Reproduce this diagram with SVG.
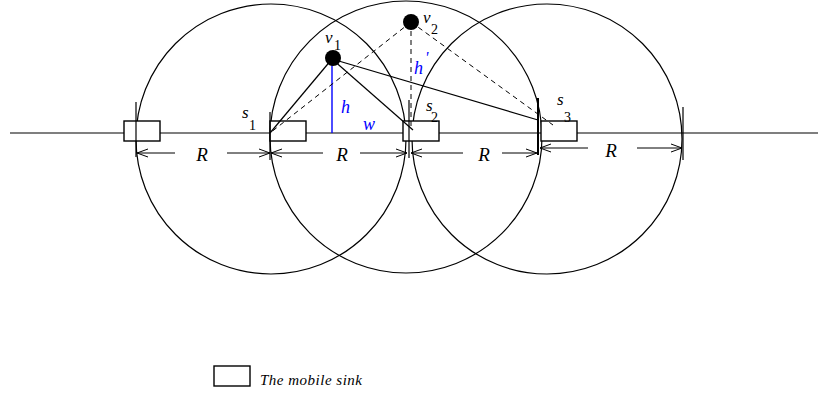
<svg xmlns="http://www.w3.org/2000/svg" width="818" height="394" viewBox="0 0 818 394">
<style>
.ln{stroke:#000;stroke-width:1.2;fill:none}
.dash{stroke:#000;stroke-width:1;fill:none;stroke-dasharray:5,4}
.box{fill:#fff;stroke:#000;stroke-width:1.4}
.circ{fill:none;stroke:#000;stroke-width:1.2}
.arr{stroke:#000;stroke-width:1;fill:none;marker-end:url(#ah)}
.t{font-family:"Liberation Serif",serif;font-style:italic;fill:#000}
.n{font-family:"Liberation Serif",serif;fill:#000;font-size:14px}
.blue{fill:#0000ff}
</style>
<defs>
<marker id="ah" markerWidth="12" markerHeight="10" refX="11" refY="5" orient="auto" markerUnits="userSpaceOnUse">
<path d="M0,1 L11,5 L0,9" fill="none" stroke="#000" stroke-width="1"/>
</marker>
</defs>
<g id="circles">
<circle class="circ" cx="271" cy="139" r="135"/>
<circle class="circ" cx="406" cy="137" r="136"/>
<circle class="circ" cx="547" cy="139" r="135"/>
</g>
<g id="axis">
<line class="ln" x1="10" y1="133" x2="818" y2="133"/>
</g>
<g id="s0"><rect class="box" x="124" y="121" width="36" height="20"/></g>
<g id="s1"><rect class="box" x="270" y="121" width="36" height="20"/>
<text class="t" x="242" y="118" font-size="17">s</text><text class="n" x="249" y="130">1</text></g>
<g id="s2"><rect class="box" x="403" y="121" width="36" height="20"/>
<text class="t" x="426" y="111" font-size="17">s</text><text class="n" x="431" y="122">2</text></g>
<g id="s3"><rect class="box" x="541" y="121" width="36" height="20"/>
<text class="t" x="557" y="105" font-size="17">s</text><text class="n" x="564" y="122">3</text></g>
<g id="connectors">
<line class="ln" x1="136" y1="102" x2="136" y2="157"/>
<line class="ln" x1="270" y1="112" x2="270" y2="160"/>
<line class="ln" x1="409" y1="100" x2="409" y2="158"/>
<line class="ln" x1="538" y1="98" x2="538" y2="155" style="stroke-width:2"/>
<line class="ln" x1="683" y1="107" x2="683" y2="160"/>
<line class="arr" x1="175" y1="153" x2="137" y2="153"/>
<line class="arr" x1="227" y1="153" x2="270" y2="153"/>
<line class="arr" x1="323" y1="153" x2="271" y2="153"/>
<line class="arr" x1="360" y1="153" x2="407" y2="153"/>
<line class="arr" x1="463" y1="153" x2="411" y2="153"/>
<line class="arr" x1="502" y1="153" x2="537" y2="153"/>
<line class="arr" x1="588" y1="148" x2="540" y2="148"/>
<line class="arr" x1="637" y1="148" x2="682" y2="148"/>
<line x1="332" y1="59" x2="332" y2="133" stroke="#0000ff" stroke-width="1.4"/>
<line class="ln" x1="332" y1="59" x2="270" y2="133"/>
<line class="ln" x1="332" y1="59" x2="413" y2="130"/>
<line class="ln" x1="332" y1="59" x2="538" y2="120"/>
<line class="dash" x1="411" y1="22" x2="270" y2="133"/>
<line class="dash" x1="411" y1="22" x2="411" y2="130"/>
<line class="dash" x1="411" y1="22" x2="553" y2="125"/>
</g>
<g id="v1"><circle cx="333" cy="58" r="8" fill="#000"/>
<text class="t" x="325" y="43" font-size="17">v</text><text class="n" x="334" y="50">1</text></g>
<g id="v2"><circle cx="411" cy="22" r="8" fill="#000"/>
<text class="t" x="423" y="23" font-size="17">v</text><text class="n" x="431" y="34">2</text></g>
<g id="labels">
<text class="t blue" x="341" y="113" font-size="18">h</text>
<text class="t blue" x="363" y="130" font-size="18">w</text>
<text class="t blue" x="414" y="74" font-size="18">h</text>
<text class="t blue" x="425" y="63" font-size="16">'</text>
<text class="t" x="202" y="161" font-size="19" text-anchor="middle">R</text>
<text class="t" x="342" y="161" font-size="19" text-anchor="middle">R</text>
<text class="t" x="484" y="161" font-size="19" text-anchor="middle">R</text>
<text class="t" x="611" y="157" font-size="19" text-anchor="middle">R</text>
</g>
<g id="legend"><rect class="box" x="214" y="366" width="36" height="20"/>
<text class="t" x="260" y="385" font-size="15" textLength="102" lengthAdjust="spacing">The mobile sink</text></g>
</svg>
